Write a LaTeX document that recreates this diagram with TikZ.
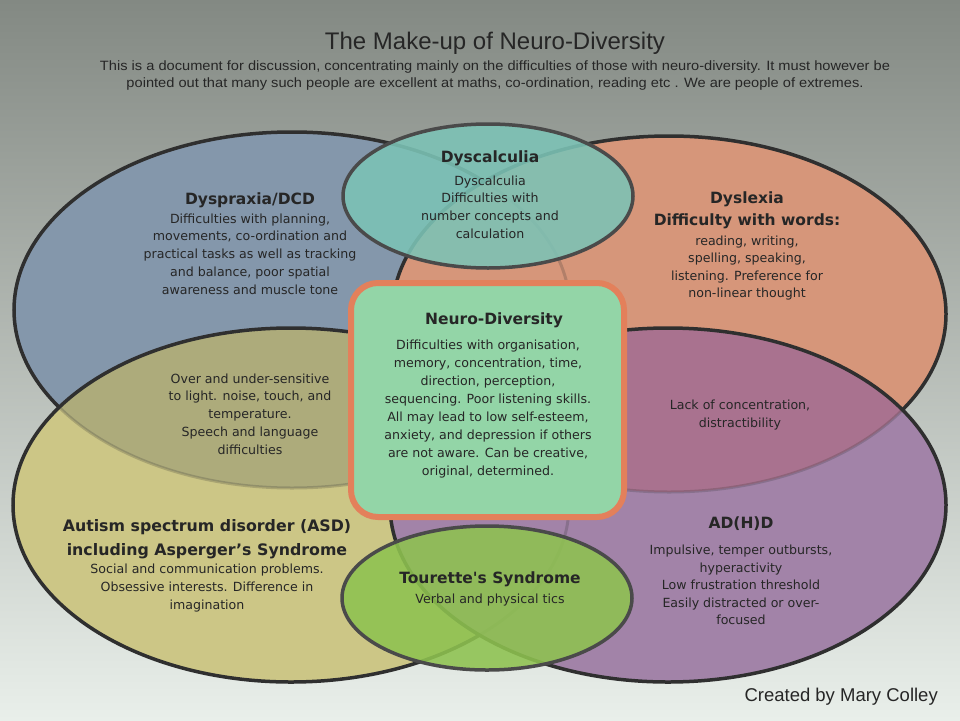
\documentclass[tikz,border=0pt]{standalone}
\usepackage{fontspec}
\setmainfont{DejaVu Sans}
\newfontfamily\libsans{Liberation Sans}
\usepackage{graphicx}
\definecolor{bgtop}{HTML}{838983}
\definecolor{bgbot}{HTML}{E9EFEA}
\definecolor{cblue}{HTML}{8497AB}
\definecolor{cyel}{HTML}{CCC686}
\definecolor{colive}{HTML}{ADAB7B}
\definecolor{corange}{HTML}{D6967A}
\definecolor{cpurp}{HTML}{A283A8}
\definecolor{cmauve}{HTML}{A9728F}
\definecolor{cteal}{HTML}{7CC3B6}
\definecolor{cgreen}{HTML}{8EC250}
\definecolor{cbox}{HTML}{93D5A7}
\definecolor{cboxline}{HTML}{E3805B}
\definecolor{cline}{HTML}{2F2F2F}
\definecolor{csmall}{HTML}{4A4A4A}
\definecolor{ctext}{HTML}{262626}
\tikzset{
  bigline/.style={draw=cline, line width=3.5pt},
  smallline/.style={draw=csmall, line width=3.5pt},
  faint/.style={draw=cline, line width=3pt, draw opacity=0.22},
  head/.style={text=ctext, font=\bfseries\fontsize{15.5}{22}\selectfont, align=center, inner sep=0pt},
  body/.style={text=ctext, font=\fontsize{12.6}{17.8}\selectfont, align=center, inner sep=0pt},
}
\begin{document}
\begin{tikzpicture}[x=1pt,y=-1pt]
\def\Epra{(292,310) ellipse [x radius=278pt, y radius=178pt]}
\def\Elex{(669,314) ellipse [x radius=277pt, y radius=178pt]}
\def\Easd{(291,505) ellipse [x radius=278pt, y radius=177pt]}
\def\Eadh{(668,505) ellipse [x radius=278pt, y radius=177pt]}
\def\Ecal{(488,196) ellipse [x radius=145pt, y radius=72pt]}
\def\Etou{(487,598) ellipse [x radius=145pt, y radius=72pt]}
\useasboundingbox (0,0) rectangle (960,720);
\shade[top color=bgtop, bottom color=bgbot] (0,0) rectangle (960,720);
% Dyspraxia
\fill[cblue] \Epra;
\path[bigline] \Epra;
% Dyslexia
\fill[corange] \Elex;
\begin{scope}
  \clip \Elex;
  \path[faint] \Epra;
\end{scope}
\path[bigline] \Elex;
% ASD
\fill[cyel] \Easd;
\begin{scope}
  \clip \Easd;
  \fill[colive] \Epra;
  \path[faint] \Epra;
  \path[faint] \Elex;
\end{scope}
\path[bigline] \Easd;
% ADHD
\fill[cpurp] \Eadh;
\begin{scope}
  \clip \Eadh;
  \fill[cmauve] \Elex;
  \path[faint] \Elex;
  \path[faint] \Easd;
\end{scope}
\path[bigline] \Eadh;
% Dyscalculia and Tourette
\fill[cteal, fill opacity=0.88] \Ecal;
\path[smallline] \Ecal;
\fill[cgreen, fill opacity=0.88] \Etou;
\path[smallline] \Etou;
% central box
\draw[draw=cboxline, line width=6pt, fill=cbox, rounded corners=27pt] (351,283) rectangle (624,517);

% title
\node[text=ctext, inner sep=0pt] (title) at (495,43) {\libsans\fontsize{24}{24}\selectfont\resizebox{340pt}{\height}{The Make-up of Neuro-Diversity}};
\node[text=ctext, inner sep=0pt] (sub1) at (495,67) {\libsans\fontsize{13.5}{14}\selectfont\resizebox{790pt}{\height}{This is a document for discussion, concentrating mainly on the difficulties of those with neuro-diversity. It must however be}};
\node[text=ctext, inner sep=0pt] (sub2) at (495,84) {\libsans\fontsize{13.5}{14}\selectfont\resizebox{737pt}{\height}{pointed out that many such people are excellent at maths, co-ordination, reading etc . We are people of extremes.}};

% Dyspraxia text
\node[head] (prah) at (250,200) {Dyspraxia/DCD};
\node[body] (prab) at (250,254) {Difficulties with planning,\\movements, co-ordination and\\practical tasks as well as tracking\\and balance, poor spatial\\awareness and muscle tone};
% Dyscalculia text
\node[head] (calh) at (490,158) {Dyscalculia};
\node[body] (calb) at (490,207) {Dyscalculia\\Difficulties with\\number concepts and\\calculation};
% Dyslexia text
\node[head] (lexh) at (747,210) {Dyslexia\\Difficulty with words:};
\node[body, font=\fontsize{12.6}{17.4}\selectfont] (lexb) at (747,268) {reading, writing,\\spelling, speaking,\\listening. Preference for\\non-linear thought};
% overlap Dyspraxia / ASD
\node[body] (ovl) at (250,414) {Over and under-sensitive\\to light. noise, touch, and\\temperature.\\Speech and language\\difficulties};
% Neuro-Diversity
\node[head] (ndh) at (494,320) {Neuro-Diversity};
\node[body, font=\fontsize{12.6}{18}\selectfont] (ndb) at (488,409) {Difficulties with organisation,\\memory, concentration, time,\\direction, perception,\\sequencing. Poor listening skills.\\All may lead to low self-esteem,\\anxiety, and depression if others\\are not aware. Can be creative,\\original, determined.};
% overlap Dyslexia / ADHD
\node[body] (ovr) at (740,415) {Lack of concentration,\\distractibility};
% ASD
\node[head, font=\bfseries\fontsize{15.8}{24}\selectfont] (asdh) at (207,539) {Autism spectrum disorder (ASD)\\including Asperger’s Syndrome};
\node[body] (asdb) at (207,588) {Social and communication problems.\\Obsessive interests. Difference in\\imagination};
% ADHD
\node[head] (adhh) at (741,524) {AD(H)D};
\node[body, font=\fontsize{12.6}{17.5}\selectfont] (adhb) at (741,585) {Impulsive, temper outbursts,\\hyperactivity\\Low frustration threshold\\Easily distracted or over-\\focused};
% Tourette
\node[head] (touh) at (490,579) {Tourette\textquotesingle s Syndrome};
\node[body] (toub) at (490,600) {Verbal and physical tics};
% credit
\node[text=ctext, anchor=east, inner sep=0pt] (credit) at (938,697) {\libsans\fontsize{18.5}{19}\selectfont Created by Mary Colley};
\end{tikzpicture}
\end{document}
